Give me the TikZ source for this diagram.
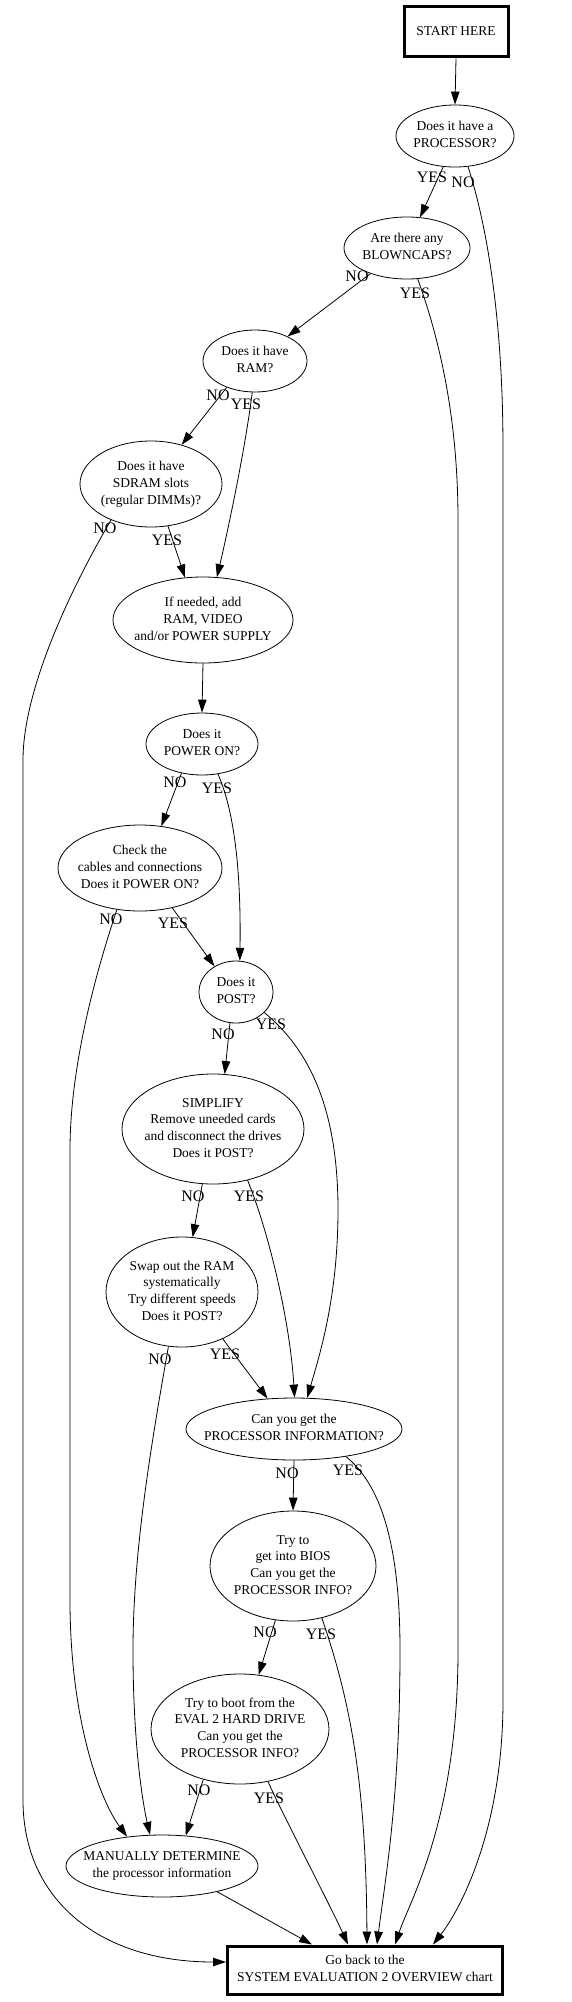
\documentclass[tikz,border=0pt]{standalone}
\usepackage{fontspec}
\setmainfont{Liberation Serif}
\usetikzlibrary{shapes.geometric,arrows.meta}
\newcommand{\ntext}[1]{\makebox[0pt]{\begin{tabular}{@{}c@{}}#1\end{tabular}}}
\begin{document}
\begin{tikzpicture}[x=1pt,y=-1pt,
  dnode/.style={ellipse, draw, line width=0.8pt, inner sep=0pt, font=\fontsize{13.5}{16.8}\selectfont},
  bnode/.style={rectangle, draw, line width=3pt, inner sep=0pt, font=\fontsize{13.5}{16.8}\selectfont},
  lbl/.style={inner sep=0pt, font=\fontsize{16}{19}\selectfont},
  conn/.style={draw, line width=0.8pt, -{Triangle[length=13pt,width=8.5pt]}}]
\useasboundingbox (0,0) rectangle (571,2002);
\fill[white] (0,0) rectangle (571,2002);

% nodes
\node[bnode, minimum width=104, minimum height=50] (start) at (456,32) {\ntext{START HERE}};
\node[dnode, minimum width=118, minimum height=62] (proc) at (455,136) {\ntext{Does it have a\\PROCESSOR?}};
\node[dnode, minimum width=126, minimum height=62] (blown) at (407,248) {\ntext{Are there any\\BLOWNCAPS?}};
\node[dnode, minimum width=104, minimum height=62] (ram) at (255,361) {\ntext{Does it have\\RAM?}};
\node[dnode, minimum width=142, minimum height=86] (sdram) at (151,484) {\ntext{Does it have\\SDRAM slots\\(regular DIMMs)?}};
\node[dnode, minimum width=180, minimum height=86] (add) at (203,620) {\ntext{If needed, add\\RAM, VIDEO\\and/or POWER SUPPLY}};
\node[dnode, minimum width=112, minimum height=62] (pwr) at (202,744) {\ntext{Does it\\POWER ON?}};
\node[dnode, minimum width=164, minimum height=86] (check) at (140,868) {\ntext{Check the\\cables and connections\\Does it POWER ON?}};
\node[dnode, minimum width=74, minimum height=62] (post) at (236,992) {\ntext{Does it\\POST?}};
\node[dnode, minimum width=182, minimum height=110] (simp) at (213,1129) {\ntext{SIMPLIFY\\Remove uneeded cards\\and disconnect the drives\\Does it POST?}};
\node[dnode, minimum width=152, minimum height=110] (swap) at (182,1292) {\ntext{Swap out the RAM\\systematically\\Try different speeds\\Does it POST?}};
\node[dnode, minimum width=216, minimum height=62] (pinfo) at (294,1429) {\ntext{Can you get the\\PROCESSOR INFORMATION?}};
\node[dnode, minimum width=166, minimum height=110] (bios) at (293,1566) {\ntext{Try to\\get into BIOS\\Can you get the\\PROCESSOR INFO?}};
\node[dnode, minimum width=178, minimum height=110] (eval) at (240,1729) {\ntext{Try to boot from the\\EVAL 2 HARD DRIVE\\Can you get the\\PROCESSOR INFO?}};
\node[dnode, minimum width=192, minimum height=62] (manual) at (162,1866) {\ntext{MANUALLY DETERMINE\\the processor information}};
\node[bnode, minimum width=275, minimum height=48] (back) at (365,1970) {\ntext{Go back to the\\SYSTEM EVALUATION 2 OVERVIEW chart}};

% connectors
\draw[conn] (start.south) -- (proc.north);
\draw[conn] (proc.249) -- (blown.67);
\draw[conn] (proc.-67) .. controls (482,210) and (503,300) .. (503,450) -- (503,1700) .. controls (503,1830) and (460,1910) .. ([xshift=68pt]back.north);
\draw[conn] (blown.-145) -- (ram.37);
\draw[conn] (blown.-71) .. controls (440,340) and (458,420) .. (458,520) -- (458,1650) .. controls (458,1820) and (410,1900) .. ([xshift=30pt]back.north);
\draw[conn] (ram.-137) -- (sdram.52);
\draw[conn] (ram.-95) .. controls (245,450) and (228,530) .. (add.72);
\draw[conn] (sdram.-68) -- (add.113);
\draw[conn] (sdram.-138) .. controls (70,590) and (23,690) .. (23,760) -- (23,1800) .. controls (23,1900) and (100,1962) .. ([yshift=8pt]back.west);
\draw[conn] (add.south) -- (pwr.north);
\draw[conn] (pwr.-125) -- (check.63);
\draw[conn] (pwr.-62) .. controls (236,815) and (241,880) .. (post.83);
\draw[conn] (check.-119) .. controls (100,960) and (70,1060) .. (70,1150) -- (70,1600) .. controls (70,1720) and (100,1800) .. (manual.140);
\draw[conn] (check.-51) -- (post.130);
\draw[conn] (post.-101) -- (simp.78);
\draw[conn] (post.-36) .. controls (310,1050) and (338,1110) .. (338,1210) .. controls (338,1300) and (318,1360) .. (pinfo.67);
\draw[conn] (simp.-101) -- (swap.79);
\draw[conn] (simp.-56) .. controls (268,1230) and (290,1320) .. (pinfo.89);
\draw[conn] (swap.-104) .. controls (152,1440) and (133,1550) .. (133,1650) .. controls (133,1740) and (142,1800) .. (manual.111);
\draw[conn] (swap.-49.5) -- (pinfo.131);
\draw[conn] (pinfo.south) -- (bios.north);
\draw[conn] (pinfo.-28) .. controls (375,1480) and (400,1530) .. (400,1650) .. controls (400,1800) and (385,1880) .. ([xshift=12pt]back.north);
\draw[conn] (bios.-108.5) -- (eval.71.5);
\draw[conn] (bios.-61) .. controls (350,1700) and (366,1780) .. ([xshift=2pt]back.north);
\draw[conn] (eval.-126.5) -- (manual.52.6);
\draw[conn] (eval.-62) .. controls (283,1815) and (330,1905) .. ([xshift=-17pt]back.north);
\draw[conn] (manual.-25) -- ([xshift=-53pt]back.north);

% labels
\node[lbl] (l1) at (432,177) {YES};
\node[lbl] (l2) at (463,182) {NO};
\node[lbl] (l3) at (357,276) {NO};
\node[lbl] (l4) at (415,293) {YES};
\node[lbl] (l5) at (218,395) {NO};
\node[lbl] (l6) at (246,404) {YES};
\node[lbl] (l7) at (105,528) {NO};
\node[lbl] (l8) at (167,540) {YES};
\node[lbl] (l9) at (175,782) {NO};
\node[lbl] (l10) at (217,788) {YES};
\node[lbl] (l11) at (111,919) {NO};
\node[lbl] (l12) at (173,923) {YES};
\node[lbl] (l13) at (223,1034) {NO};
\node[lbl] (l14) at (271,1024) {YES};
\node[lbl] (l15) at (193,1196) {NO};
\node[lbl] (l16) at (249,1196) {YES};
\node[lbl] (l17) at (160,1359) {NO};
\node[lbl] (l18) at (225,1354) {YES};
\node[lbl] (l19) at (287,1473) {NO};
\node[lbl] (l20) at (348,1470) {YES};
\node[lbl] (l21) at (265,1632) {NO};
\node[lbl] (l22) at (321,1634) {YES};
\node[lbl] (l23) at (199,1790) {NO};
\node[lbl] (l24) at (269,1798) {YES};
\end{tikzpicture}
\end{document}
